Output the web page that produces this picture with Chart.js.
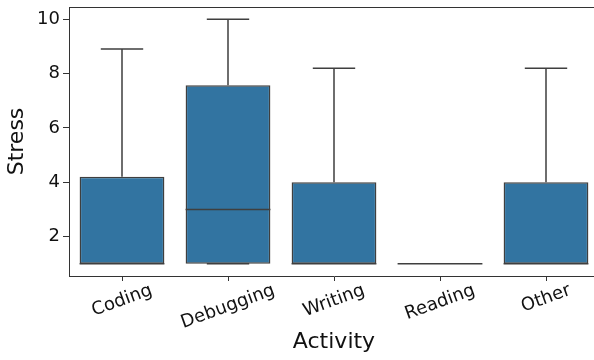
<!DOCTYPE html>
<html>
<head>
<meta charset="utf-8">
<script src="https://cdn.jsdelivr.net/npm/chart.js@4"></script>
<style>
  html, body { margin: 0; padding: 0; overflow: hidden; background: #fff; }
  canvas { display: block; }
</style>
</head>
<body>
<canvas id="grafico" width="600" height="360" style="width:600px;height:360px"></canvas>
<script>
// datos
const categorias = ['Coding', 'Debugging', 'Writing', 'Reading', 'Other'];
const bigoteBajo = [1, 1, 1, 1, 1];
const q1 = [1, 1, 1, 1, 1];
const mediana = [1, 3, 1, 1, 1];
const q3 = [4.2, 7.57, 4, 1, 4];
const bigoteAlto = [8.9, 10, 8.2, 1, 8.2];
const ticksY = [2, 4, 6, 8, 10];

const colorCaja = '#3274a1';
const colorLinea = '#3f3f3f';
const colorEje = '#333333';
const fuente = 'DejaVu Sans';

Chart.defaults.font.family = fuente;

// bigotes, medianas, marco y etiquetas rotadas
const pluginCajas = {
    id: 'cajas',
    afterDatasetsDraw(chart) {
        const ctx = chart.ctx;
        const x = chart.scales.x;
        const y = chart.scales.y;
        const meta = chart.getDatasetMeta(0);
        ctx.save();
        ctx.strokeStyle = colorLinea;
        ctx.lineWidth = 1.5;
        for (let i = 0; i < categorias.length; i++) {
            const cx = x.getPixelForValue(i);
            const medio = meta.data[i].width / 2;
            const tapa = medio / 2;
            ctx.beginPath();
            // bigote superior
            ctx.moveTo(cx, y.getPixelForValue(q3[i]));
            ctx.lineTo(cx, y.getPixelForValue(bigoteAlto[i]));
            ctx.moveTo(cx - tapa, y.getPixelForValue(bigoteAlto[i]));
            ctx.lineTo(cx + tapa, y.getPixelForValue(bigoteAlto[i]));
            // bigote inferior
            ctx.moveTo(cx, y.getPixelForValue(q1[i]));
            ctx.lineTo(cx, y.getPixelForValue(bigoteBajo[i]));
            ctx.moveTo(cx - tapa, y.getPixelForValue(bigoteBajo[i]));
            ctx.lineTo(cx + tapa, y.getPixelForValue(bigoteBajo[i]));
            // mediana
            ctx.moveTo(cx - medio, y.getPixelForValue(mediana[i]));
            ctx.lineTo(cx + medio, y.getPixelForValue(mediana[i]));
            ctx.stroke();
        }
        ctx.restore();
    },
    afterDraw(chart) {
        const ctx = chart.ctx;
        const area = chart.chartArea;
        const x = chart.scales.x;
        ctx.save();
        // marco superior y derecho
        ctx.strokeStyle = colorEje;
        ctx.lineWidth = 1;
        ctx.beginPath();
        ctx.moveTo(area.left, area.top + 0.5);
        ctx.lineTo(area.right, area.top + 0.5);
        ctx.lineTo(area.right - 0.5, area.bottom);
        ctx.stroke();

        // etiquetas del eje x, rotadas 20 grados y centradas
        const tam = 18;
        const ang = 20 * Math.PI / 180;
        ctx.font = tam + 'px "' + fuente + '"';
        ctx.fillStyle = '#111';
        ctx.textAlign = 'center';
        ctx.textBaseline = 'middle';
        for (let i = 0; i < categorias.length; i++) {
            const w = ctx.measureText(categorias[i]).width;
            const h = tam * 1.17;
            const alto = w * Math.sin(ang) + h * Math.cos(ang);
            const cx = x.getPixelForValue(i);
            const cy = area.bottom + 4 + alto / 2;
            ctx.save();
            ctx.translate(cx, cy);
            ctx.rotate(-ang);
            ctx.fillText(categorias[i], 0, 0);
            ctx.restore();
        }
        ctx.restore();
    }
};

const grafico = new Chart(document.getElementById('grafico').getContext('2d'), {
    type: 'bar',
    data: {
        labels: categorias,
        datasets: [{
            label: 'Stress',
            data: categorias.map((c, i) => [q1[i], q3[i]]),
            backgroundColor: colorCaja,
            borderColor: colorLinea,
            borderWidth: 1.5,
            borderSkipped: false,
            categoryPercentage: 0.8,
            barPercentage: 1.0
        }]
    },
    options: {
        responsive: false,
        animation: false,
        layout: { padding: { top: 7, right: 1, left: 0, bottom: 0 } },
        plugins: {
            legend: { display: false },
            tooltip: { enabled: false }
        },
        scales: {
            x: {
                type: 'category',
                offset: true,
                grid: {
                    offset: false,
                    drawOnChartArea: false,
                    drawTicks: true,
                    tickLength: 5,
                    color: colorEje
                },
                border: { display: true, color: colorEje, width: 1 },
                ticks: { display: false },
                title: {
                    display: true,
                    text: 'Activity',
                    color: '#111',
                    font: { size: 22 },
                    padding: { top: 0, bottom: 5 }
                },
                afterFit(scale) {
                    scale.height = 84;
                    scale.paddingLeft = 0;
                    scale.paddingRight = 0;
                }
            },
            y: {
                min: 0.55,
                max: 10.45,
                grid: {
                    drawOnChartArea: false,
                    drawTicks: true,
                    tickLength: 6,
                    color: colorEje
                },
                border: { display: true, color: colorEje, width: 1 },
                ticks: {
                    color: '#111',
                    font: { size: 18 },
                    padding: 3
                },
                afterBuildTicks(scale) {
                    scale.ticks = ticksY.map(v => ({ value: v }));
                },
                title: {
                    display: true,
                    text: 'Stress',
                    color: '#111',
                    font: { size: 22 },
                    padding: { top: 4, bottom: 0 }
                },
                afterFit(scale) {
                    scale.width = 69;
                    scale.paddingTop = 0;
                    scale.paddingBottom = 0;
                }
            }
        }
    },
    plugins: [pluginCajas]
});
</script>
</body>
</html>
